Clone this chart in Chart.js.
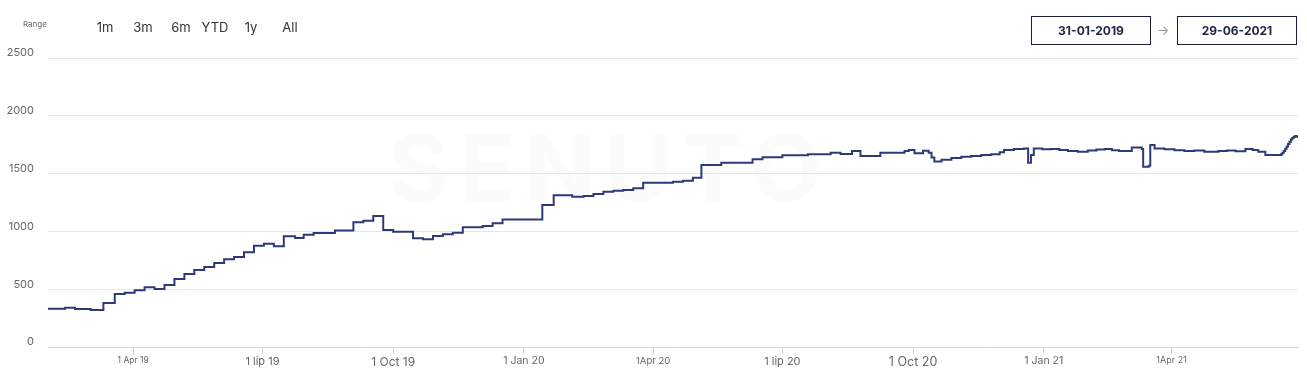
<!DOCTYPE html>
<html>
<head>
<meta charset="utf-8">
<title>Visibility</title>
<script src="https://cdn.jsdelivr.net/npm/chart.js@4.4.1/dist/chart.umd.min.js"></script>
<style>
  body { margin: 0; background: #fff; font-family: Inter, "Open Sans", sans-serif; }
  #wrap { position: relative; width: 1307px; height: 386px; overflow: hidden; }
  #mark { position: absolute; left: 380px; top: 112px; width: 460px; text-align: center;
          font: 700 92px Inter, sans-serif; letter-spacing: 10px; color: #fbfbfb; }
  #chart { position: absolute; left: 0; top: 0; }
  .range { position: absolute; left: 23px; top: 19px; font-size: 8px; color: #666; }
  .btn { position: absolute; top: 19px; font-size: 13px; color: #333; transform: translateX(-50%); }
  .date { position: absolute; top: 16px; width: 118px; height: 27px; border: 1.5px solid #1c1f3a;
          font-size: 12px; font-weight: 700; color: #1f2344; text-align: center; line-height: 27px; }
  .arrow { position: absolute; left: 1157px; top: 22px; font-size: 13px; color: #999; }
</style>
</head>
<body>
<div id="wrap">
  <div id="mark">SENUTO</div>
  <canvas id="chart" width="1307" height="386"></canvas>
  <div class="range">Range</div>
  <div class="btn" style="left:105px">1m</div>
  <div class="btn" style="left:143px">3m</div>
  <div class="btn" style="left:181px">6m</div>
  <div class="btn" style="left:215px">YTD</div>
  <div class="btn" style="left:251px">1y</div>
  <div class="btn" style="left:290px">All</div>
  <div class="date" style="left:1031px">31-01-2019</div>
  <div class="arrow">→</div>
  <div class="date" style="left:1177px">29-06-2021</div>
</div>
<script>
/**
 *  Data
 */
var startDate = "2019-01-31";
var endDate = "2021-06-29";

var dates = [
    "2019-01-31", "2019-02-12", "2019-02-19", "2019-03-02", "2019-03-11", "2019-03-19", "2019-03-26",
    "2019-04-02", "2019-04-09", "2019-04-16", "2019-04-23", "2019-04-30", "2019-05-07", "2019-05-14",
    "2019-05-21", "2019-05-28", "2019-06-04", "2019-06-11", "2019-06-18", "2019-06-25", "2019-07-02",
    "2019-07-09", "2019-07-16", "2019-07-24", "2019-07-30", "2019-08-06", "2019-08-21", "2019-09-03",
    "2019-09-10", "2019-09-17", "2019-09-24", "2019-10-01", "2019-10-15", "2019-10-22", "2019-10-29",
    "2019-11-05", "2019-11-12", "2019-11-19", "2019-12-03", "2019-12-10", "2019-12-17", "2020-01-14",
    "2020-01-22", "2020-02-04", "2020-02-12", "2020-02-19", "2020-02-26", "2020-03-04", "2020-03-11",
    "2020-03-18", "2020-03-25", "2020-04-15", "2020-04-22", "2020-04-29", "2020-05-05", "2020-05-19",
    "2020-06-10", "2020-06-17", "2020-07-01", "2020-07-19", "2020-08-04", "2020-08-11", "2020-08-19",
    "2020-08-25", "2020-09-08", "2020-09-25", "2020-09-28", "2020-10-02", "2020-10-08", "2020-10-12",
    "2020-10-14", "2020-10-16", "2020-10-21", "2020-10-28", "2020-11-04", "2020-11-11", "2020-11-18",
    "2020-11-25", "2020-12-01", "2020-12-04", "2020-12-11", "2020-12-18", "2020-12-21", "2020-12-23",
    "2020-12-25", "2020-12-31", "2021-01-06", "2021-01-12", "2021-01-18", "2021-01-25", "2021-02-01",
    "2021-02-07", "2021-02-13", "2021-02-18", "2021-02-23", "2021-03-04", "2021-03-11", "2021-03-12",
    "2021-03-16", "2021-03-17", "2021-03-20", "2021-03-27", "2021-04-03", "2021-04-10", "2021-04-17",
    "2021-04-24", "2021-05-04", "2021-05-10", "2021-05-16", "2021-05-23", "2021-05-28", "2021-06-01",
    "2021-06-06", "2021-06-16", "2021-06-17", "2021-06-18", "2021-06-19", "2021-06-20", "2021-06-21",
    "2021-06-22", "2021-06-23", "2021-06-24", "2021-06-25", "2021-06-26", "2021-06-27", "2021-06-28",
    "2021-06-29"
];
var visibility = [
    331, 340, 329, 320, 381, 458, 470,
    490, 516, 502, 536, 588, 631, 666,
    692, 727, 759, 778, 819, 876, 894,
    871, 957, 943, 971, 986, 1008, 1080,
    1092, 1133, 1012, 997, 940, 932, 960,
    975, 989, 1035, 1047, 1070, 1104, 1228,
    1312, 1300, 1306, 1323, 1343, 1352, 1358,
    1373, 1420, 1430, 1438, 1465, 1574, 1594,
    1624, 1641, 1658, 1667, 1681, 1669, 1695,
    1652, 1681, 1695, 1704, 1675, 1698, 1681,
    1640, 1604, 1620, 1636, 1645, 1652, 1660,
    1667, 1685, 1704, 1712, 1718, 1594, 1660,
    1718, 1710, 1713, 1705, 1695, 1690, 1700,
    1708, 1713, 1702, 1695, 1725, 1713, 1560,
    1568, 1747, 1718, 1710, 1702, 1695, 1700,
    1690, 1695, 1700, 1693, 1713, 1705, 1690,
    1661, 1661, 1668, 1680, 1695, 1715, 1735,
    1755, 1775, 1795, 1808, 1818, 1825, 1818,
    1811
];

var yTicks = [0, 500, 1000, 1500, 2000, 2500];
var tickDates = ["2019-04-01", "2019-07-01", "2019-10-01", "2020-01-01", "2020-04-01",
                 "2020-07-01", "2020-10-01", "2021-01-01", "2021-04-01"];
var tickLabels = ["1 Apr 19", "1 lip 19", "1 Oct 19", "1 Jan 20", "1Apr 20",
                  "1 lip 20", "1 Oct 20", "1 Jan 21", "1Apr 21"];
// the labels in the original come in different sizes
var tickFontSizes = [8.5, 11, 12, 10.5, 9.5, 11, 12.5, 10.5, 9];

var dayOf = function (s) {
    return (Date.parse(s) - Date.parse(startDate)) / 86400000;
};

var points = dates.map(function (d, i) {
    return { x: dayOf(d), y: visibility[i] };
});

new Chart(document.getElementById("chart"), {
    type: "line",
    data: {
        datasets: [{
            label: "Visibility",
            data: points,
            borderColor: "#2e3a78",
            borderWidth: 2,
            pointRadius: 0,
            stepped: true,
            fill: false
        }]
    },
    options: {
        responsive: false,
        animation: false,
        layout: { padding: { top: 58, right: 9, left: 0, bottom: 0 } },
        plugins: { legend: { display: false }, tooltip: { enabled: false } },
        scales: {
            x: {
                type: "linear",
                min: 0,
                max: dayOf(endDate),
                afterBuildTicks: function (scale) {
                    scale.ticks = tickDates.map(function (d) { return { value: dayOf(d) }; });
                },
                afterFit: function (scale) { scale.height = 39; },
                border: { color: "#ccd6eb" },
                grid: { drawOnChartArea: false, color: "#ccd6eb", tickLength: 7 },
                ticks: {
                    autoSkip: false,
                    maxRotation: 0,
                    padding: 1,
                    color: "#666",
                    font: function (ctx) {
                        return { family: "Inter", size: tickFontSizes[ctx.index] || 10 };
                    },
                    callback: function (v, i) { return tickLabels[i]; }
                }
            },
            y: {
                min: 0,
                max: 2500,
                afterBuildTicks: function (scale) {
                    scale.ticks = yTicks.map(function (v) { return { value: v }; });
                },
                afterFit: function (scale) { scale.width = 48; },
                border: { display: false },
                grid: { color: "#e6e6e6", drawTicks: false },
                ticks: {
                    padding: 14,
                    labelOffset: -5,
                    color: "#666",
                    font: { family: "Inter", size: 11 },
                    callback: function (v) { return String(v); }
                }
            }
        }
    }
});
</script>
</body>
</html>
